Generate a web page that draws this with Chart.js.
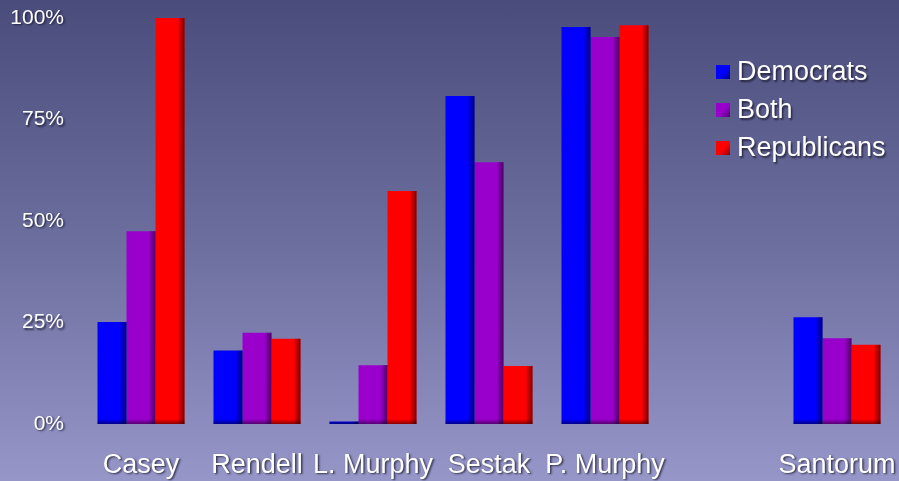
<!DOCTYPE html>
<html>
<head>
<meta charset="utf-8">
<script src="https://cdn.jsdelivr.net/npm/chart.js@4.4.1/dist/chart.umd.min.js"></script>
<style>
  html, body { margin: 0; padding: 0; }
  body {
    width: 899px; height: 481px; overflow: hidden;
    background: linear-gradient(to bottom, #4a4c7c 0%, #6c6e9e 50%, #9696c8 100%);
  }
  #wrap { position: relative; width: 899px; height: 481px; }
</style>
</head>
<body>
<div id="wrap"><canvas id="chart" width="899" height="481"></canvas></div>
<script>
// Candidates (one empty slot separates Santorum from the others)
const candidates = ['Casey', 'Rendell', 'L. Murphy', 'Sestak', 'P. Murphy', '', 'Santorum'];

// Share of each group, in percent
const democrats   = [25.1, 18.1, 0.6, 80.8, 97.8, null, 26.3];
const both        = [47.5, 22.5, 14.5, 64.5, 95.3, null, 21.1];
const republicans = [100, 21.0, 57.4, 14.3, 98.2, null, 19.5];

const yTicks = [0, 25, 50, 75, 100];

const seriesColors = ['#0000ff', '#9900cc', '#ff0000'];
const seriesShades = ['#00008a', '#4f0070', '#8a0000'];

const FONT = '"Liberation Sans", Arial, sans-serif';

// Gives each bar a dark right edge and bottom edge
const bevel = {
  id: 'bevel',
  afterDatasetsDraw(chart) {
    const ctx = chart.ctx;
    chart.data.datasets.forEach((ds, di) => {
      const meta = chart.getDatasetMeta(di);
      meta.data.forEach((bar, i) => {
        if (ds.data[i] == null) return;
        const { x, y, base, width } = bar.getProps(['x', 'y', 'base', 'width'], true);
        const left = x - width / 2, right = x + width / 2;
        const h = base - y;
        if (h <= 0) return;
        ctx.save();
        const gr = ctx.createLinearGradient(right - 7, 0, right, 0);
        gr.addColorStop(0, 'rgba(0,0,0,0)');
        gr.addColorStop(1, 'rgba(0,0,0,0.5)');
        ctx.fillStyle = gr;
        ctx.fillRect(right - 7, y, 7, h);
        const gb = ctx.createLinearGradient(0, base - 5, 0, base);
        gb.addColorStop(0, 'rgba(0,0,0,0)');
        gb.addColorStop(1, 'rgba(0,0,0,0.45)');
        ctx.fillStyle = gb;
        ctx.fillRect(left, Math.max(y, base - 5), width, Math.min(5, h));
        ctx.restore();
      });
    });
  }
};

// Soft shadow under the axis labels
const labelShadow = {
  id: 'labelShadow',
  beforeDraw(chart) {
    const ctx = chart.ctx;
    ctx.shadowColor = 'rgba(20,20,40,0.75)';
    ctx.shadowOffsetX = 1.5;
    ctx.shadowOffsetY = 1.5;
    ctx.shadowBlur = 2;
  },
  beforeDatasetsDraw(chart) {
    const ctx = chart.ctx;
    ctx.shadowColor = 'rgba(0,0,0,0)';
    ctx.shadowOffsetX = 0;
    ctx.shadowOffsetY = 0;
    ctx.shadowBlur = 0;
  }
};

// Legend drawn over the upper right of the plot
const overlayLegend = {
  id: 'overlayLegend',
  afterDraw(chart) {
    const ctx = chart.ctx;
    const x0 = 716, y0 = 72, step = 38, box = 14;
    ctx.save();
    ctx.font = '27px ' + FONT;
    ctx.textBaseline = 'middle';
    ctx.textAlign = 'left';
    chart.data.datasets.forEach((ds, i) => {
      const cy = y0 + i * step;
      const g = ctx.createLinearGradient(x0, cy - box / 2, x0 + box, cy + box / 2);
      g.addColorStop(0, seriesColors[i]);
      g.addColorStop(0.55, seriesColors[i]);
      g.addColorStop(1, seriesShades[i]);
      ctx.fillStyle = g;
      ctx.fillRect(x0, cy - box / 2, box, box);
      ctx.shadowColor = 'rgba(20,20,40,0.75)';
      ctx.shadowOffsetX = 1.5;
      ctx.shadowOffsetY = 1.5;
      ctx.shadowBlur = 2;
      ctx.fillStyle = '#ffffff';
      ctx.fillText(ds.label, x0 + 21, cy + 1);
      ctx.shadowColor = 'rgba(0,0,0,0)';
    });
    ctx.restore();
  }
};

const series = [
  { label: 'Democrats', data: democrats },
  { label: 'Both', data: both },
  { label: 'Republicans', data: republicans }
];

new Chart(document.getElementById('chart'), {
  type: 'bar',
  data: {
    labels: candidates,
    datasets: series.map((s, i) => ({
      label: s.label,
      data: s.data,
      backgroundColor: seriesColors[i],
      borderWidth: 0,
      barPercentage: 1.0,
      categoryPercentage: 0.75
    }))
  },
  options: {
    responsive: false,
    animation: false,
    layout: { padding: { top: 18, right: 4, left: 0, bottom: 0 } },
    plugins: {
      legend: { display: false },
      tooltip: { enabled: false }
    },
    scales: {
      x: {
        afterFit(scale) {
          scale.height = 57;
          scale.paddingLeft = 0;
          scale.paddingRight = 0;
        },
        grid: { display: false, drawTicks: false },
        border: { display: false },
        ticks: {
          color: '#ffffff',
          padding: 25,
          font: { family: FONT, size: 27 },
          maxRotation: 0,
          autoSkip: false
        }
      },
      y: {
        min: 0,
        max: 100,
        afterFit(scale) {
          scale.width = 83;
          scale.paddingTop = 0;
          scale.paddingBottom = 0;
        },
        afterBuildTicks(scale) { scale.ticks = yTicks.map(v => ({ value: v })); },
        grid: { display: false, drawTicks: false },
        border: { display: false },
        ticks: {
          color: '#ffffff',
          padding: 19,
          font: { family: FONT, size: 21 },
          callback: v => v + '%'
        }
      }
    }
  },
  plugins: [labelShadow, bevel, overlayLegend]
});
</script>
</body>
</html>
